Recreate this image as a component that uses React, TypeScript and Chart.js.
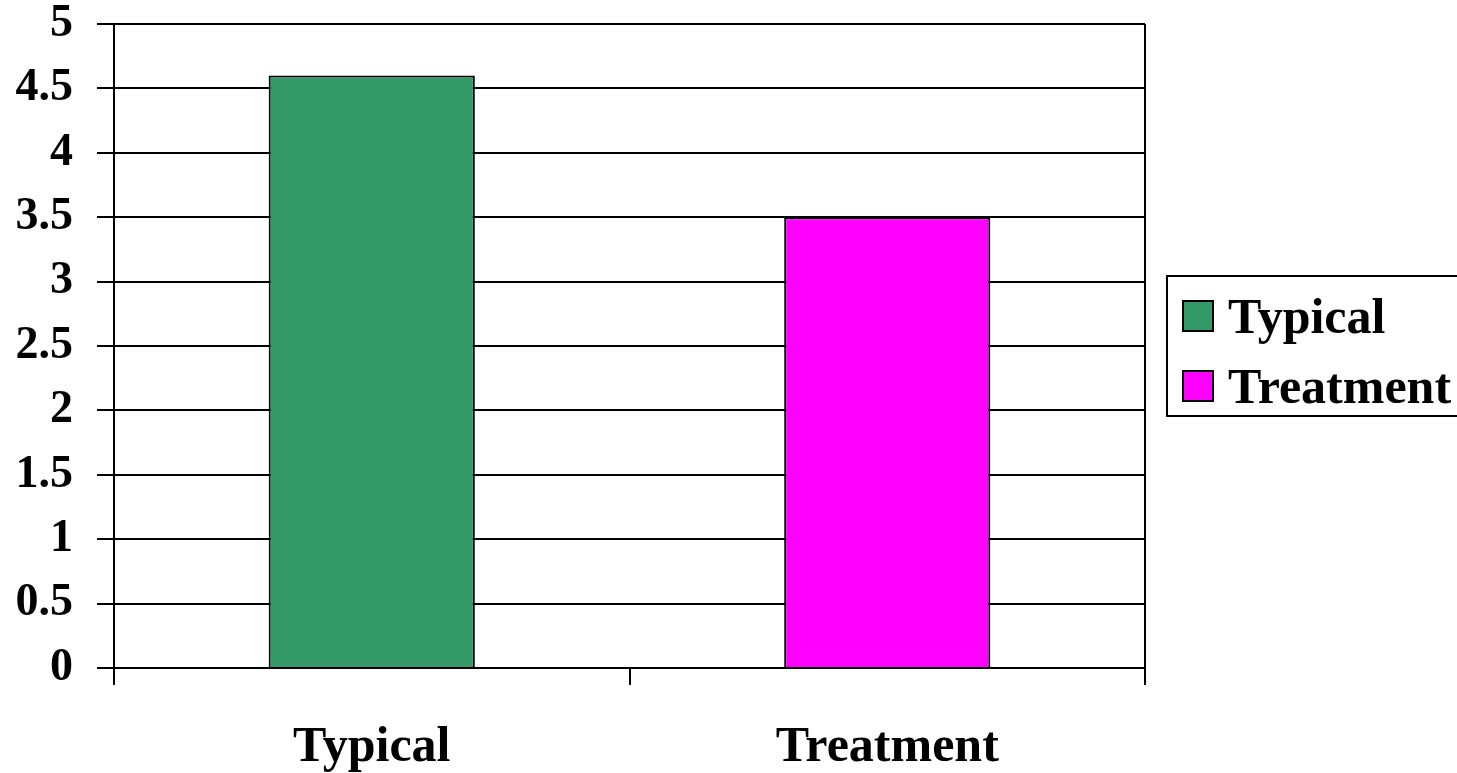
import React, { useEffect, useRef } from "react";
import { Chart, registerables } from "chart.js";

Chart.register(...registerables);

const categories = ["Typical", "Treatment"];
const values = [4.6, 3.5];
const barColors = ["#339966", "#FF00FF"];
const yTickLabels = ["0", "0.5", "1", "1.5", "2", "2.5", "3", "3.5", "4", "4.5", "5"];

const FONT = "'Liberation Serif', 'Times New Roman', serif";

const framePlugin = {
  id: "frameAndLegend",
  afterDraw(chart: any) {
    const { ctx, chartArea } = chart;
    ctx.save();
    ctx.strokeStyle = "#000";
    ctx.lineWidth = 2;
    ctx.beginPath();
    ctx.moveTo(chartArea.right, chartArea.top);
    ctx.lineTo(chartArea.right, chartArea.bottom);
    ctx.stroke();

    const left = chartArea.right + 22;
    const h = 140;
    const rowH = 70;
    const top = Math.round((chartArea.top + chartArea.bottom) / 2 - h / 2);
    ctx.lineWidth = 2;
    ctx.strokeRect(left, top, chart.width - left + 20, h);
    ctx.font = `bold 50px ${FONT}`;
    ctx.textBaseline = "alphabetic";
    ctx.textAlign = "left";
    categories.forEach((c, i) => {
      const sy = top + 25 + i * rowH;
      ctx.fillStyle = barColors[i];
      ctx.fillRect(left + 16, sy, 30, 30);
      ctx.lineWidth = 2;
      ctx.strokeStyle = "#000";
      ctx.strokeRect(left + 16, sy, 30, 30);
      ctx.fillStyle = "#000";
      ctx.fillText(c, left + 61, sy + 32);
    });
    ctx.restore();
  },
};

export default function App() {
  const ref = useRef<HTMLCanvasElement | null>(null);

  useEffect(() => {
    if (!ref.current) return;
    const chart = new Chart(ref.current, {
      type: "bar",
      data: {
        labels: categories,
        datasets: [
          {
            label: "Series",
            data: values,
            backgroundColor: barColors,
            borderColor: "#000",
            borderWidth: 2,
            barPercentage: 0.4,
            categoryPercentage: 1,
          },
        ],
      },
      options: {
        animation: false,
        responsive: false,
        maintainAspectRatio: false,
        layout: { padding: { top: 24, right: 312, bottom: 0, left: 0 } },
        plugins: {
          legend: { display: false },
          tooltip: { enabled: false },
          title: { display: false },
        },
        scales: {
          x: {
            offset: true,
            grid: {
              offset: true,
              drawOnChartArea: false,
              drawTicks: true,
              tickLength: 17,
              color: "#000",
              lineWidth: 2,
            },
            border: { display: true, color: "#000", width: 2 },
            ticks: {
              color: "#000",
              padding: 38,
              font: { family: FONT, size: 50, weight: "bold", lineHeight: 1 },
            },
            afterFit: (s: any) => {
              s.height = 105;
              s.paddingLeft = 0;
              s.paddingRight = 0;
            },
          },
          y: {
            min: 0,
            max: 5,
            ticks: {
              stepSize: 0.5,
              color: "#000",
              padding: 24,
              font: { family: FONT, size: 46, weight: "bold", lineHeight: 1 },
              callback: (_v: any, i: number) => yTickLabels[i],
            },
            grid: {
              color: "#000",
              lineWidth: 2,
              tickLength: 17,
              drawTicks: true,
            },
            border: { display: true, color: "#000", width: 2 },
            afterFit: (s: any) => {
              s.width = 114;
              s.paddingTop = 0;
              s.paddingBottom = 0;
            },
          },
        },
      },
      plugins: [framePlugin],
    });
    return () => chart.destroy();
  }, []);

  return (
    <div style={{ position: "absolute", left: 0, top: 0, width: 1457, height: 773, background: "#fff" }}>
      <canvas ref={ref} width={1457} height={773} style={{ display: "block" }} />
    </div>
  );
}
